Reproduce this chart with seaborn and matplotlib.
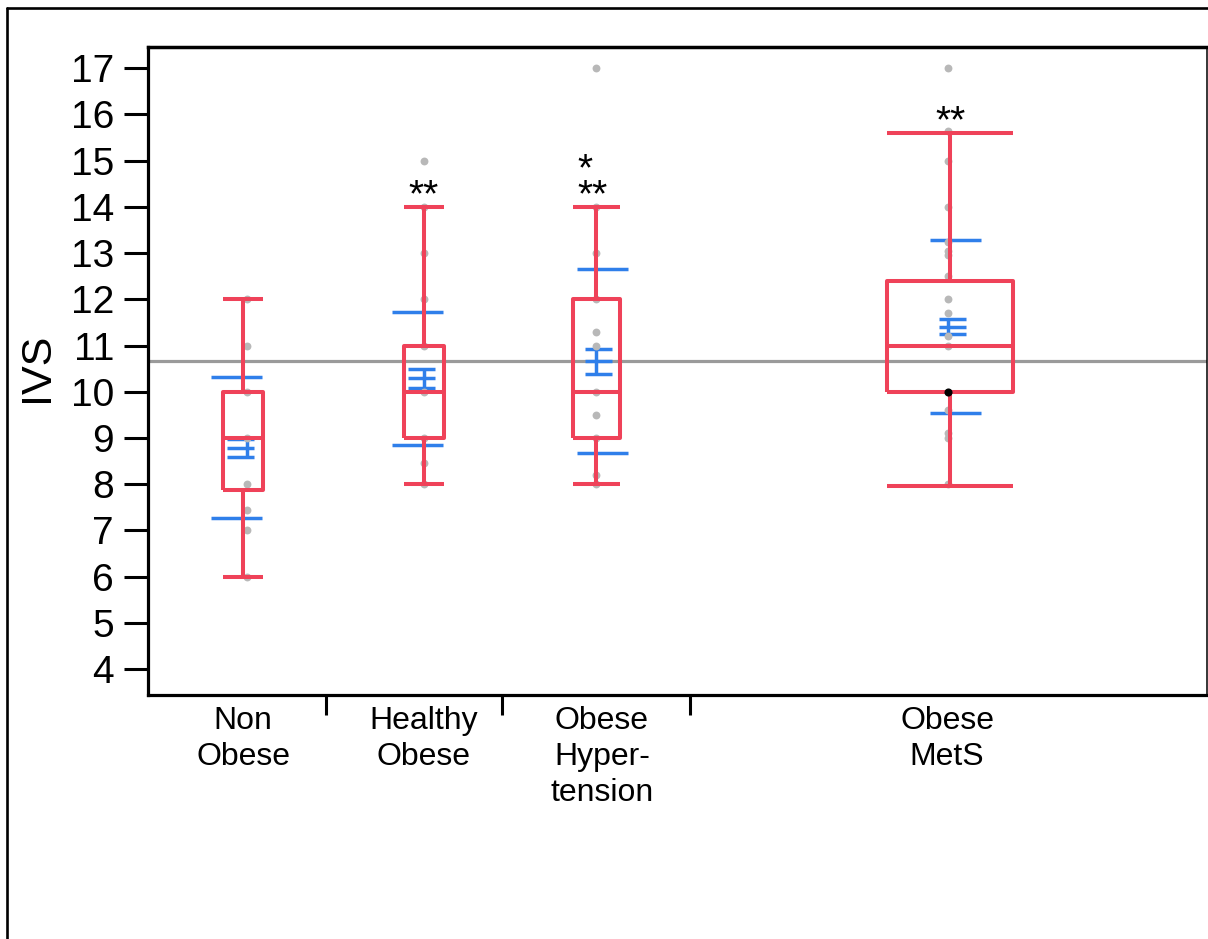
import matplotlib
matplotlib.use("Agg")
import matplotlib.pyplot as plt
from matplotlib.lines import Line2D
import numpy as np
import pandas as pd
import seaborn as sns

# ---- data -------------------------------------------------------------
groups = ["Non\nObese", "Healthy\nObese", "Obese\nHyper-\ntension", "Obese\nMetS"]

# individual IVS readings (distinct values; repeats overlap)
ivs_non_obese = [12, 11, 10, 9, 8, 7.45, 7, 6]
ivs_healthy_obese = [15, 14, 13, 12, 11, 10, 9, 8.45, 8]
ivs_obese_htn = [17, 14, 13, 12, 11.3, 11, 10, 9.5, 9, 8.2, 8]
ivs_obese_mets = [17, 15.65, 15, 14, 13.25, 13.05, 12.95, 12.5, 12, 11.7,
                  11.2, 11, 9.6, 9.1, 9.0, 8]
selected_mets = [10.0]

# box-plot summaries
q1 = [7.88, 9, 9, 10]
median = [9, 10, 10, 11]
q3 = [10, 11, 12, 12.4]
whisker_low = [6, 8, 8, 7.96]
whisker_high = [12, 14, 14, 15.6]

# mean, standard error and standard deviation
means = [8.79, 10.29, 10.66, 11.41]
sem = [0.19, 0.20, 0.27, 0.16]
sd = [1.52, 1.44, 1.99, 1.87]
grand_mean = 10.67

stars = ["", "**", "*\n**", "**"]

y_ticks = list(range(4, 18))

# ---- layout (x axis runs in width units proportional to group size) ---
x_span = 1059
separators = [177.7, 354, 542]
box_pos = [95, 275.5, 448, 802]
box_w = [40.6, 40, 47, 126.6]
point_pos = [98.7, 275.7, 448, 800.3]
sd_pos = [88.5, 269, 454, 807.5]
se_pos = [92.5, 273, 450, 804]
label_pos = [95, 276, 454, 799]
star_pos = [98.7, 276, 445, 803]

RED = "#EF4259"
BLUE = "#2F7FEA"
DOT = "#B8B8B8"
MEAN_LINE = "#9A9A9A"

sns.set_theme(style="white")
plt.rcParams["font.family"] = ["Liberation Sans", "DejaVu Sans"]

W, H = 1208, 939
fig = plt.figure(figsize=(W / 100, H / 100), dpi=100)
ax = fig.add_axes([148 / W, 1 - 695 / H, (1207 - 148) / W, (695 - 47) / H])
ax.set_xlim(0, x_span)
ax.set_ylim(3.44, 17.46)

# overall mean
ax.axhline(grand_mean, color=MEAN_LINE, lw=2.3, zorder=1)

# mean +/- SD and mean +/- SE markers
for i in range(len(groups)):
    m, s, e = means[i], sd[i], sem[i]
    ax.hlines([m - s, m + s], sd_pos[i] - 25.5, sd_pos[i] + 25.5,
              colors=BLUE, lw=2.5, zorder=2)
    ax.hlines([m - e, m, m + e], se_pos[i] - 13.5, se_pos[i] + 13.5,
              colors=BLUE, lw=2.5, zorder=2)
    ax.vlines(point_pos[i], m - e, m + e, colors=BLUE, lw=2.5, zorder=2)

# individual points
per_group = [ivs_non_obese, ivs_healthy_obese, ivs_obese_htn, ivs_obese_mets]
pts = pd.DataFrame({
    "x": np.concatenate([[point_pos[i]] * len(v) for i, v in enumerate(per_group)]),
    "ivs": np.concatenate(per_group),
})
sns.scatterplot(data=pts, x="x", y="ivs", color=DOT, s=32, linewidth=0,
                ax=ax, zorder=3, legend=False)

# quantile boxes
stats = [dict(med=median[i], q1=q1[i], q3=q3[i], whislo=whisker_low[i],
              whishi=whisker_high[i], fliers=[]) for i in range(len(groups))]
line_kw = dict(color=RED, lw=2.9, solid_capstyle="butt")
ax.bxp(stats, positions=box_pos, widths=box_w, capwidths=box_w,
       showfliers=False, manage_ticks=False, zorder=4,
       boxprops=line_kw, whiskerprops=line_kw, capprops=line_kw,
       medianprops=line_kw)

sel = pd.DataFrame({"x": [point_pos[3]] * len(selected_mets), "ivs": selected_mets})
sns.scatterplot(data=sel, x="x", y="ivs", color="black", s=34, linewidth=0,
                ax=ax, zorder=5, legend=False)

# significance marks above the upper whiskers (last row sits on the whisker)
star_size = 28
for i, label in enumerate(stars):
    if not label:
        continue
    ax.annotate(label, xy=(star_pos[i], whisker_high[i]),
                xytext=(0, -5.0), textcoords="offset points",
                ha="center", va="bottom", multialignment="left",
                linespacing=0.62, fontsize=star_size, color="black",
                zorder=6)

# axes styling
ax.set_yticks(y_ticks)
ax.set_yticklabels([str(t) for t in y_ticks])
ax.tick_params(axis="y", which="major", left=True, direction="out",
               length=17.5, width=2.2, labelsize=28, pad=7, color="black",
               labelcolor="black")

ax.set_xticks(separators)
ax.set_xticklabels([])
ax.set_xticks(label_pos, minor=True)
ax.set_xticklabels(groups, minor=True, linespacing=1.25)
ax.tick_params(axis="x", which="major", bottom=True, direction="out",
               length=14.5, width=2.2, color="black")
ax.tick_params(axis="x", which="minor", bottom=True, length=0, pad=8,
               labelsize=23, labelcolor="black")

ax.set_xlabel("")
ax.set_ylabel("IVS", fontsize=31, color="black")
ax.yaxis.set_label_coords(-0.086, 0.505)

for side, lw in [("left", 2.3), ("top", 2.5), ("bottom", 2.3), ("right", 1.1)]:
    ax.spines[side].set_visible(True)
    ax.spines[side].set_color("black")
    ax.spines[side].set_linewidth(lw)

# outer panel frame
fig.add_artist(Line2D([7.5 / W, 1], [1 - 7.5 / H] * 2, transform=fig.transFigure,
                      color="black", lw=1.9))
fig.add_artist(Line2D([7.5 / W] * 2, [0, 1 - 7.5 / H], transform=fig.transFigure,
                      color="black", lw=1.9))

fig.savefig("out.png", dpi=100)
